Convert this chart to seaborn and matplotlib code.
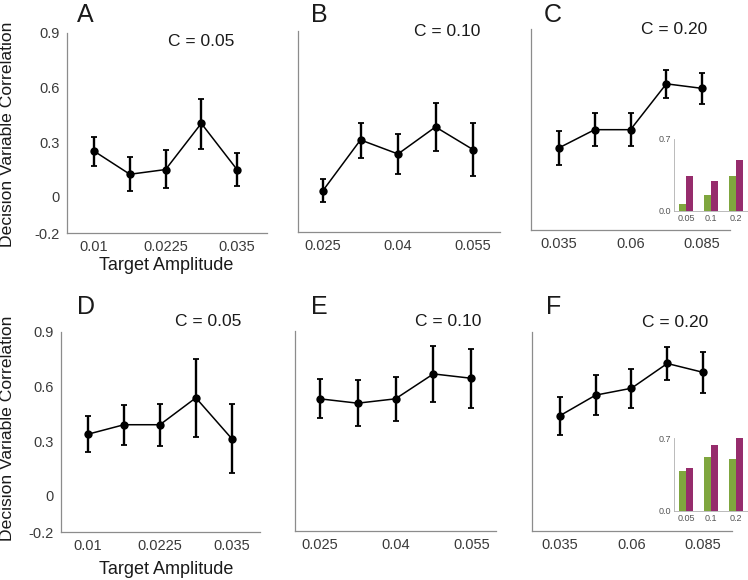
import numpy as np
import pandas as pd
import matplotlib
matplotlib.use("Agg")
import matplotlib.pyplot as plt
import seaborn as sns

# === data ===
amp_low = [0.01, 0.01625, 0.0225, 0.02875, 0.035]
amp_mid = [0.025, 0.0325, 0.04, 0.0475, 0.055]
amp_high = [0.035, 0.0475, 0.06, 0.0725, 0.085]
amp_labels_low = ["0.01", "", "0.0225", "", "0.035"]
amp_labels_mid = ["0.025", "", "0.04", "", "0.055"]
amp_labels_high = ["0.035", "", "0.06", "", "0.085"]

# top row
a_mean = [0.25, 0.123, 0.149, 0.403, 0.149]
a_lo = [0.17, 0.033, 0.046, 0.263, 0.061]
a_hi = [0.33, 0.217, 0.254, 0.539, 0.241]
b_mean = [0.027, 0.304, 0.227, 0.375, 0.251]
b_lo = [-0.035, 0.204, 0.116, 0.245, 0.105]
b_hi = [0.091, 0.396, 0.336, 0.504, 0.396]
c_mean = [0.249, 0.349, 0.349, 0.60, 0.575]
c_lo = [0.158, 0.258, 0.258, 0.52, 0.489]
c_hi = [0.34, 0.44, 0.44, 0.675, 0.658]
# bottom row
d_mean = [0.338, 0.39, 0.39, 0.538, 0.313]
d_lo = [0.238, 0.278, 0.271, 0.324, 0.123]
d_hi = [0.437, 0.499, 0.505, 0.752, 0.505]
e_mean = [0.527, 0.503, 0.527, 0.664, 0.64]
e_lo = [0.42, 0.378, 0.407, 0.508, 0.479]
e_hi = [0.635, 0.628, 0.648, 0.82, 0.802]
f_mean = [0.437, 0.551, 0.589, 0.726, 0.677]
f_lo = [0.333, 0.439, 0.481, 0.635, 0.565]
f_hi = [0.543, 0.664, 0.697, 0.816, 0.787]

# insets
inset_groups = ["0.05", "0.1", "0.2"]
inset_c_green = [0.068, 0.156, 0.342]
inset_c_purple = [0.342, 0.287, 0.492]
inset_f_green = [0.379, 0.514, 0.498]
inset_f_purple = [0.408, 0.636, 0.70]

y_ticks = [-0.2, 0, 0.3, 0.6, 0.9]
y_tick_labels = ["-0.2", "0", "0.3", "0.6", "0.9"]
contrasts = ["C = 0.05", "C = 0.10", "C = 0.20"]

# === style ===
sns.set_theme(style="white")
plt.rcParams["font.family"] = ["Liberation Sans", "DejaVu Sans"]
SPINE = "#8c8c8c"
TXT = "#3a3a3a"
GREEN = "#7fa63e"
PURPLE = "#962c6c"

W, H = 748, 580
fig = plt.figure(figsize=(W / 100, H / 100), dpi=100)


def px_rect(l, t, r, b):
    return [l / W, 1 - b / H, (r - l) / W, (b - t) / H]


def main_panel(rect, x, mean, lo, hi, xlabels, xlim, show_y, letter, letter_pos, ctext, cpos):
    ax = fig.add_axes(px_rect(*rect))
    ax.set_facecolor("none")
    sns.lineplot(x=x, y=mean, ax=ax, color="black", lw=1.1, marker="o",
                 markersize=6, markeredgewidth=0)
    err = [np.array(mean) - np.array(lo), np.array(hi) - np.array(mean)]
    ax.errorbar(x, mean, yerr=err, fmt="none", ecolor="black", elinewidth=1.7,
                capsize=2.5, capthick=1.3)
    ax.set_xlim(*xlim)
    ax.set_ylim(-0.2, 0.9)
    sns.despine(ax=ax)
    for s in ["left", "bottom"]:
        ax.spines[s].set_color(SPINE)
        ax.spines[s].set_linewidth(0.9)
    ax.set_xticks(x)
    ax.set_xticklabels(xlabels)
    ax.set_yticks(y_ticks)
    ax.set_yticklabels(y_tick_labels if show_y else [""] * 5)
    ax.tick_params(direction="in", length=2.5, width=0.8, color=SPINE,
                   labelsize=10.5, labelcolor=TXT, pad=5)
    ax.set_xlabel("")
    ax.set_ylabel("")
    ax.text(cpos[0], cpos[1], ctext, transform=ax.transAxes, ha="center",
            va="center", fontsize=12.5, color="#1a1a1a")
    fig.text(letter_pos[0] / W, 1 - letter_pos[1] / H, letter, fontsize=18,
             ha="left", va="top", color="#1a1a1a")
    return ax


def inset_panel(rect, green, purple):
    df = pd.DataFrame({
        "group": inset_groups * 2,
        "kind": ["a"] * 3 + ["b"] * 3,
        "value": green + purple,
    })
    ax = fig.add_axes(px_rect(*rect))
    ax.set_facecolor("none")
    sns.barplot(data=df, x="group", y="value", hue="kind", palette=[GREEN, PURPLE],
                width=0.56, ax=ax, legend=False, saturation=1, linewidth=0)
    ax.set_xlim(-0.48, 2.48)
    ax.set_ylim(0, 0.7)
    ax.set_yticks([0, 0.7])
    ax.set_yticklabels(["0.0", "0.7"])
    sns.despine(ax=ax)
    for s in ["left", "bottom"]:
        ax.spines[s].set_color("#b0b0b0")
        ax.spines[s].set_linewidth(0.6)
    ax.tick_params(direction="in", length=1.2, width=0.5, color="#b0b0b0",
                   labelsize=6.5, labelcolor="#555555", pad=2)
    ax.set_xlabel("")
    ax.set_ylabel("")


main_panel((67, 33, 267, 233), amp_low, a_mean, a_lo, a_hi, amp_labels_low,
           (0.00525, 0.04025), True, "A", (77, 3), contrasts[0], (0.67, 0.96))
main_panel((298, 31, 500, 232), amp_mid, b_mean, b_lo, b_hi, amp_labels_mid,
           (0.02, 0.0604), False, "B", (311, 3), contrasts[1], (0.74, 1.0))
main_panel((531, 29, 730, 230), amp_high, c_mean, c_lo, c_hi, amp_labels_high,
           (0.0253, 0.0947), False, "C", (544, 3), contrasts[2], (0.72, 1.0))
main_panel((61, 332, 260, 532), amp_low, d_mean, d_lo, d_hi, amp_labels_low,
           (0.0053, 0.0399), True, "D", (77, 295), contrasts[0], (0.74, 1.05))
main_panel((295, 331, 496, 531), amp_mid, e_mean, e_lo, e_hi, amp_labels_mid,
           (0.0201, 0.0599), False, "E", (311, 295), contrasts[1], (0.76, 1.045))
main_panel((532, 332, 732, 531), amp_high, f_mean, f_lo, f_hi, amp_labels_high,
           (0.0253, 0.0951), False, "F", (546, 295), contrasts[2], (0.715, 1.05))

inset_panel((674, 139, 748, 211), inset_c_green, inset_c_purple)
inset_panel((674, 438, 748, 511), inset_f_green, inset_f_purple)

# shared labels
for yc in [134, 428]:
    fig.text(8 / W, 1 - yc / H, "Decision Variable Correlation", rotation=90,
             ha="center", va="center", fontsize=12.6, color="#1a1a1a")
fig.text(166 / W, 1 - 265 / H, "Target Amplitude", ha="center", va="center",
         fontsize=13, color="#1a1a1a")
fig.text(166 / W, 1 - 570 / H, "Target Amplitude", ha="center", va="center",
         fontsize=13, color="#1a1a1a")

fig.savefig("out.png", dpi=100)
